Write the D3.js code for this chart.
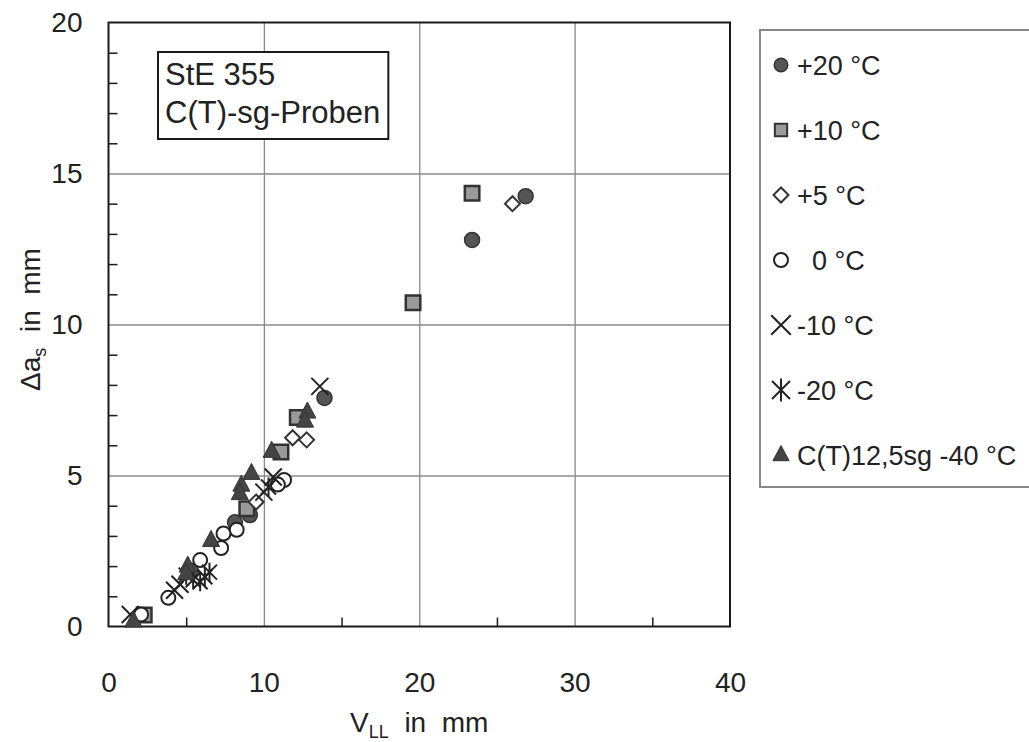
<!DOCTYPE html>
<html><head><meta charset="utf-8">
<script src="https://cdn.jsdelivr.net/npm/d3@7"></script>
<style>
html,body{margin:0;padding:0;background:#fff;}
svg{display:block;font-family:"Liberation Sans",Arial,Helvetica,sans-serif;}
</style></head>
<body><svg id="c" width="1029" height="742"></svg>
<script>
// ---- data ----
const xTicks = [0, 10, 20, 30, 40];
const yTicks = [0, 5, 10, 15, 20];
const xMinor = [5, 15, 25, 35];
const yMinor = [1,2,3,4,6,7,8,9,11,12,13,14,16,17,18,19];
const seriesNames = ["+20 °C", "+10 °C", "+5 °C", "\u00A0\u00A00 °C", "-10 °C", "-20 °C", "C(T)12,5sg -40 °C"];
const boxLines = ["StE 355", "C(T)-sg-Proben"];

const plus20 = [[26.85,14.25],[23.4,12.8],[13.9,7.57],[9.1,3.69],[8.14,3.45],[5.3,1.85]];
const plus10 = [[23.4,14.35],[19.6,10.72],[12.15,6.92],[11.1,5.78],[8.9,3.9],[2.3,0.38]];
const plus5  = [[26.0,14.0],[11.85,6.25],[12.75,6.18],[9.5,4.12]];
const zero   = [[11.3,4.85],[10.9,4.7],[8.25,3.2],[7.4,3.08],[7.25,2.6],[5.9,2.2],[3.85,0.95],[2.1,0.4]];
const minus10 = [[13.6,7.95],[10.6,4.95],[10.0,4.45],[4.6,1.4],[4.25,1.2],[1.4,0.4]];
const minus20 = [[10.3,4.62],[5.45,1.55],[5.9,1.48],[6.2,1.65],[6.5,1.8],[5.0,1.7]];
const minus40 = [[12.8,7.1],[12.65,6.8],[10.5,5.8],[9.2,5.07],[8.55,4.68],[8.45,4.4],[6.6,2.85],[5.1,2.0],[5.0,1.75],[1.6,0.18]];

// ---- setup ----
const svg = d3.select("#c");
const L = 108.5, R = 730, T = 22.5, B = 626.5;
const x = d3.scaleLinear().domain([0, 40]).range([L, R]);
const y = d3.scaleLinear().domain([0, 20]).range([B, T]);
const ink = "#1a1a1a";

// marker path generators (k = scale)
const shapes = {
  circle:   k => d3.symbol(d3.symbolCircle, Math.PI * Math.pow(7.5*k, 2))(),
  square:   k => d3.symbol(d3.symbolSquare, Math.pow(14.5*k, 2))(),
  diamond:  k => { const s = 7.5*k; return `M0,${-s}L${s},0L0,${s}L${-s},0Z`; },
  ocircle:  k => d3.symbol(d3.symbolCircle, Math.PI * Math.pow(7*k, 2))(),
  times:    k => { const s = 8.5*k; return `M${-s},${-s}L${s},${s}M${s},${-s}L${-s},${s}`; },
  aster:    k => { const s = 7.5*k, v = 9.5*k; return `M${-s},${-s}L${s},${s}M${s},${-s}L${-s},${s}M0,${-v}L0,${v}`; },
  triangle: k => `M0,${-10*k}L${8.5*k},${6*k}L${-8.5*k},${6*k}Z`
};
const series = [
  {data: plus20,  shape: "circle",   fill: "#555", stroke: "#333", sw: 1.5, lk: 0.9},
  {data: plus10,  shape: "square",   fill: "#9a9a9a", stroke: "#333", sw: 2.5, lk: 0.85},
  {data: plus5,   shape: "diamond",  fill: "#fff", stroke: "#333", sw: 2, lk: 1},
  {data: zero,    shape: "ocircle",  fill: "#fff", stroke: "#222", sw: 2, lk: 1},
  {data: minus10, shape: "times",    fill: "none", stroke: "#222", sw: 2, lk: 1.15},
  {data: minus20, shape: "aster",    fill: "none", stroke: "#222", sw: 2, lk: 1.2},
  {data: minus40, shape: "triangle", fill: "#444", stroke: "#333", sw: 1, lk: 0.95}
];
series.forEach((s, i) => s.name = seriesNames[i]);

// ---- gridlines ----
svg.append("g").attr("transform", `translate(0,${B})`)
  .call(d3.axisBottom(x).tickValues(xTicks.slice(1, -1)).tickSize(-(B - T)).tickFormat(""))
  .call(g => g.select(".domain").remove())
  .call(g => g.selectAll("line").attr("stroke", "#8a8a8a").attr("stroke-width", 1.3));
svg.append("g").attr("transform", `translate(${L},0)`)
  .call(d3.axisLeft(y).tickValues(yTicks.slice(1, -1)).tickSize(-(R - L)).tickFormat(""))
  .call(g => g.select(".domain").remove())
  .call(g => g.selectAll("line").attr("stroke", "#8a8a8a").attr("stroke-width", 1.3));

// ---- minor ticks ----
svg.append("g").attr("transform", `translate(0,${B})`)
  .call(d3.axisBottom(x).tickValues(xMinor).tickSize(-9).tickFormat(""))
  .call(g => g.select(".domain").remove())
  .call(g => g.selectAll("line").attr("stroke", ink).attr("stroke-width", 1.5));
svg.append("g").attr("transform", `translate(${L},0)`)
  .call(d3.axisLeft(y).tickValues(yMinor).tickSize(-9).tickFormat(""))
  .call(g => g.select(".domain").remove())
  .call(g => g.selectAll("line").attr("stroke", ink).attr("stroke-width", 1.5));

// ---- frame ----
svg.append("rect").attr("x", L).attr("y", T).attr("width", R - L).attr("height", B - T)
  .attr("fill", "none").attr("stroke", ink).attr("stroke-width", 2);

// ---- tick labels ----
svg.append("g").attr("transform", `translate(0,${B})`)
  .call(d3.axisBottom(x).tickValues(xTicks).tickSize(0).tickPadding(46))
  .call(g => g.select(".domain").remove())
  .call(g => g.selectAll("text").attr("font-size", 28).attr("fill", "#222")
      .attr("font-family", "Liberation Sans, Arial, sans-serif"));
svg.append("g").attr("transform", `translate(${L},0)`)
  .call(d3.axisLeft(y).tickValues(yTicks).tickSize(0).tickPadding(26))
  .call(g => g.select(".domain").remove())
  .call(g => g.selectAll("text").attr("font-size", 28).attr("fill", "#222")
      .attr("font-family", "Liberation Sans, Arial, sans-serif"));

// ---- axis titles ----
const xt = svg.append("text").attr("x", x(20)).attr("y", 732).attr("text-anchor", "middle")
  .attr("font-size", 28).attr("fill", "#222");
xt.append("tspan").text("V");
xt.append("tspan").attr("font-size", 18).attr("dy", 6).text("LL");
xt.append("tspan").attr("dy", -6).text("\u00A0 in\u00A0 mm");

const yt = svg.append("text").attr("transform", `translate(40,${(T + B) / 2 - 5}) rotate(-90)`)
  .attr("text-anchor", "middle").attr("font-size", 28).attr("fill", "#222");
yt.append("tspan").text("\u0394a");
yt.append("tspan").attr("font-size", 18).attr("dy", 6).text("s");
yt.append("tspan").attr("dy", -6).text("\u00A0 in\u00A0 mm");

// ---- text box ----
const bx = svg.append("g");
const bt = bx.append("text").attr("font-size", 31).attr("fill", "#222");
boxLines.forEach((t, i) => bt.append("tspan").attr("x", 165).attr("y", 85 + i * 38).text(t));
const bb = bt.node().getBBox();
bx.insert("rect", "text").attr("x", 158).attr("y", 52).attr("width", bb.x + bb.width + 8 - 158)
  .attr("height", 139 - 52).attr("fill", "#fff").attr("stroke", ink).attr("stroke-width", 2);

// ---- points ----
series.forEach(s => {
  svg.append("g").selectAll("path").data(s.data).join("path")
    .attr("transform", d => `translate(${x(d[0])},${y(d[1])})`)
    .attr("d", shapes[s.shape](1))
    .attr("fill", s.fill).attr("stroke", s.stroke).attr("stroke-width", s.sw);
});

// ---- legend ----
const ly = d3.scalePoint().domain(seriesNames).range([65, 455]);
svg.append("rect").attr("x", 760).attr("y", 30).attr("width", 300).attr("height", 457)
  .attr("fill", "#fff").attr("stroke", "#888").attr("stroke-width", 2);
const lg = svg.append("g").selectAll("g").data(series).join("g")
  .attr("transform", s => `translate(781,${ly(s.name)})`);
lg.append("path").attr("d", s => shapes[s.shape](s.lk))
  .attr("fill", s => s.fill).attr("stroke", s => s.stroke).attr("stroke-width", s => Math.min(s.sw, 2));
lg.append("text").attr("x", 16).attr("y", 10).attr("font-size", 27).attr("fill", "#222")
  .text(s => s.name);
</script></body></html>
